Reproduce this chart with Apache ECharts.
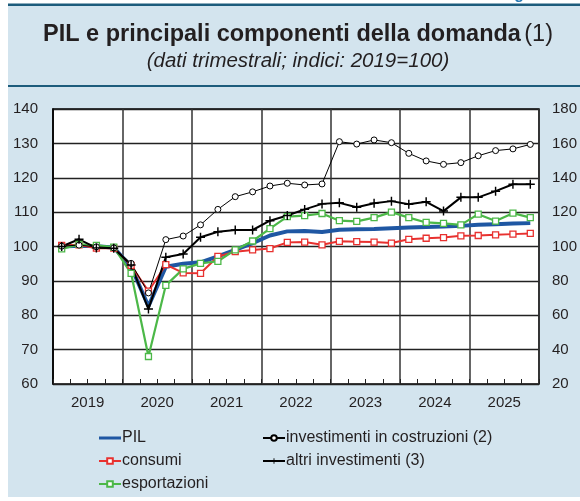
<!DOCTYPE html>
<html>
<head>
<meta charset="utf-8">
<script src="https://cdn.jsdelivr.net/npm/echarts@6/dist/echarts.min.js"></script>
<style>
  html, body { margin: 0; padding: 0; background: #fff; }
  #chart { width: 580px; height: 501px; }
</style>
</head>
<body>
<div id="chart"></div>
<script>
// trimestri 2019 T1 - 2025 T4
var quarters = [];
for (var y = 2019; y <= 2025; y++) {
    for (var q = 1; q <= 4; q++) quarters.push(y + ' T' + q);
}
var years = ['2019', '2020', '2021', '2022', '2023', '2024', '2025'];

var pil = [100.0, 100.2, 100.1, 99.7, 94.1, 82.6, 94.1, 95.0, 95.4, 97.1, 99.0, 101.0, 103.2, 104.4,
    104.5, 104.2, 104.9, 105.0, 105.1, 105.3, 105.5, 105.7, 105.8, 106.0, 106.3, 106.5, 106.7, 106.8];
var consumi = [100.3, 100.5, 99.5, 99.5, 94.5, 87.0, 94.7, 92.3, 92.2, 97.1, 98.5, 99.0, 99.4, 101.2,
    101.3, 100.5, 101.5, 101.4, 101.3, 101.0, 102.1, 102.4, 102.6, 103.1, 103.2, 103.4, 103.6, 103.8];
var esportazioni = [99.3, 100.6, 100.3, 99.8, 92.2, 68.0, 88.7, 93.5, 95.1, 95.7, 99.0, 101.6, 105.2, 108.7,
    109.0, 109.6, 107.5, 107.3, 108.4, 110.0, 108.4, 107.0, 106.7, 106.3, 109.4, 107.4, 109.7, 108.4];
// scala di destra
var costruzioni = [100.2, 100.8, 99.8, 99.2, 90.2, 73.0, 104.0, 106.1, 112.6, 121.6, 129.0, 131.8, 135.2, 136.8,
    135.8, 136.4, 161.0, 159.6, 162.0, 160.4, 154.2, 149.8, 147.8, 148.8, 152.8, 155.8, 156.8, 159.4];
var altriInv = [100.0, 102.1, 99.6, 99.5, 94.6, 81.8, 96.9, 97.8, 102.7, 104.3, 104.8, 104.8, 107.5, 109.0,
    110.8, 112.4, 112.7, 111.4, 112.6, 113.2, 112.3, 113.0, 110.3, 114.3, 114.3, 116.1, 118.1, 118.1];

var plusPath = 'path://M4.2,0H5.8V4.2H10V5.8H5.8V10H4.2V5.8H0V4.2H4.2Z';
var bg = '#d3e4ee';
var txt = '#231f20';
var font = '"Liberation Sans", Arial, sans-serif';

var chart = echarts.init(document.getElementById('chart'));

var legendText = { fontSize: 16, color: txt, lineHeight: 16, padding: [0, 0, 0, -4] };

var option = {
    backgroundColor: '#fff',
    animation: false,
    graphic: [
        { type: 'rect', z: -10, silent: true, shape: { x: 8, y: 5, width: 580, height: 492 }, style: { fill: bg } },
        { type: 'rect', z: -9, silent: true, shape: { x: 8, y: 3.5, width: 580, height: 2.5 }, style: { fill: '#1d5c7c' } },
        { type: 'rect', z: -9, silent: true, shape: { x: 8, y: 85, width: 580, height: 2 }, style: { fill: '#1d5c7c' } },
        {
            type: 'text', left: 500, top: -13, silent: true,
            style: { text: 'Figura', fill: '#2a7ab4', font: 'bold 16px ' + font }
        },
        {
            type: 'text', x: 298, y: 35, silent: true,
            style: {
                text: '{b|PIL e principali componenti della domanda} {n|(1)}',
                align: 'center', verticalAlign: 'middle',
                rich: {
                    b: { fontSize: 23.5, fontWeight: 'bold', fill: txt, fontFamily: font },
                    n: { fontSize: 23.5, fill: txt, fontFamily: font }
                }
            }
        },
        {
            type: 'text', x: 298, y: 61, silent: true,
            style: {
                text: '(dati trimestrali; indici: 2019=100)', align: 'center', verticalAlign: 'middle',
                fill: txt, font: 'italic 20.5px ' + font
            }
        }
    ],
    textStyle: { fontFamily: font },
    grid: {
        left: 53, right: 38, top: 109, bottom: 117,
        show: true, backgroundColor: '#fff', borderColor: '#000', borderWidth: 1.5
    },
    legend: [
        {
            orient: 'vertical', left: 98, top: 430, padding: 0, itemWidth: 22, itemHeight: 7, itemGap: 7,
            textStyle: legendText,
            data: [
                { name: 'PIL', icon: 'path://M0,0H22V3H0Z', itemStyle: { color: '#1f57a3' } },
                'consumi', 'esportazioni'
            ]
        },
        {
            orient: 'vertical', left: 262, top: 430, padding: 0, itemWidth: 22, itemHeight: 7, itemGap: 7,
            textStyle: legendText,
            data: ['investimenti in costruzioni (2)', 'altri investimenti (3)']
        }
    ],
    xAxis: [
        {
            type: 'category', data: quarters, boundaryGap: true,
            axisLine: { show: false },
            axisTick: { show: true, inside: true, length: 5, interval: 0, lineStyle: { color: '#222', width: 1 } },
            axisLabel: { show: false },
            splitLine: { show: true, interval: 3, lineStyle: { color: '#333', width: 1.5 } }
        },
        {
            type: 'category', data: years, position: 'bottom', boundaryGap: true,
            axisLine: { show: false }, axisTick: { show: false },
            axisLabel: { fontSize: 15, color: txt, margin: 11 },
            splitLine: { show: false }
        }
    ],
    yAxis: [
        {
            type: 'value', min: 60, max: 140, interval: 10,
            axisLine: { show: true, lineStyle: { color: '#000', width: 1.5 } },
            axisTick: { show: false },
            axisLabel: { fontSize: 15, color: txt, margin: 15 },
            splitLine: { show: true, lineStyle: { color: '#222', width: 1.3 } }
        },
        {
            type: 'value', min: 20, max: 180, interval: 20, position: 'right',
            axisLine: { show: false }, axisTick: { show: false },
            axisLabel: { fontSize: 15, color: txt, margin: 13 },
            splitLine: { show: false }
        }
    ],
    series: [
        {
            name: 'PIL', type: 'line', data: pil, symbol: 'none',
            lineStyle: { color: '#1f57a3', width: 4 }, itemStyle: { color: '#1f57a3' }
        },
        {
            name: 'consumi', type: 'line', data: consumi, symbol: 'rect', symbolSize: 6,
            lineStyle: { color: '#e8312f', width: 2 },
            itemStyle: { color: '#fff', borderColor: '#e8312f', borderWidth: 1.3 }
        },
        {
            name: 'esportazioni', type: 'line', data: esportazioni, symbol: 'rect', symbolSize: 6,
            lineStyle: { color: '#4cb848', width: 2.2 },
            itemStyle: { color: '#fff', borderColor: '#4cb848', borderWidth: 1.3 }
        },
        {
            name: 'investimenti in costruzioni (2)', type: 'line', yAxisIndex: 1, data: costruzioni,
            symbol: 'circle', symbolSize: 6,
            lineStyle: { color: '#000', width: 1 },
            itemStyle: { color: '#fff', borderColor: '#000', borderWidth: 1 }
        },
        {
            name: 'altri investimenti (3)', type: 'line', data: altriInv,
            symbol: plusPath, symbolSize: 9,
            lineStyle: { color: '#000', width: 2 },
            itemStyle: { color: '#000' }
        }
    ]
};

chart.setOption(option);
</script>
</body>
</html>
